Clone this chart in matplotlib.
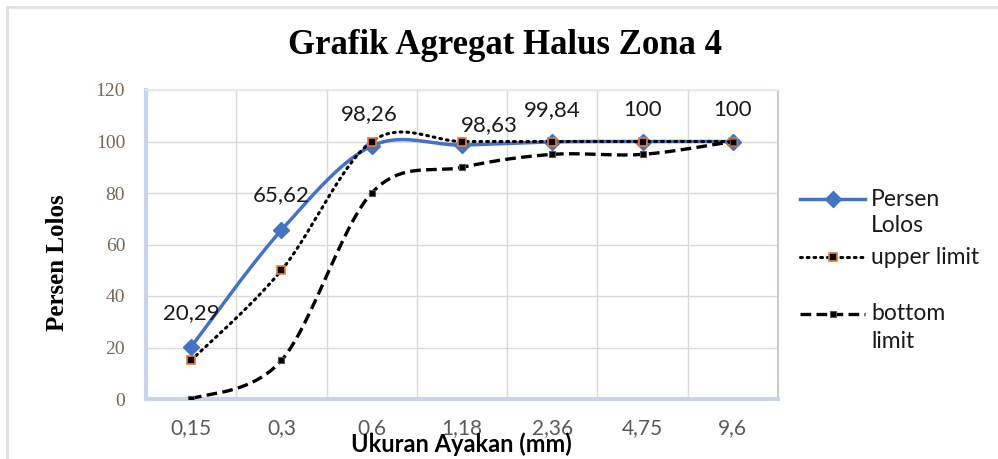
import numpy as np
import matplotlib
matplotlib.use("Agg")
import matplotlib.pyplot as plt
from matplotlib.lines import Line2D

categories = ["0,15", "0,3", "0,6", "1,18", "2,36", "4,75", "9,6"]
persen_lolos = [20.29, 65.62, 98.26, 98.63, 99.84, 100, 100]
upper_limit = [15, 50, 100, 100, 100, 100, 100]
bottom_limit = [0, 15, 80, 90, 95, 95, 100]
value_labels = ["20,29", "65,62", "98,26", "98,63", "99,84", "100", "100"]
# label offsets in points (dx, dy)
label_offsets = [(0, 24), (0, 25), (-2, 23), (20, 14), (0, 23), (0, 23), (0, 23)]

def smooth(xs, ys, n=40):
    xs = np.asarray(xs, float); ys = np.asarray(ys, float)
    px = np.concatenate([[xs[0]], xs, [xs[-1]]])
    py = np.concatenate([[ys[0]], ys, [ys[-1]]])
    outx, outy = [], []
    t = np.linspace(0, 1, n)
    for i in range(1, len(px) - 2):
        p0 = np.array([px[i], py[i]]); p3 = np.array([px[i + 1], py[i + 1]])
        c1 = p0 + (np.array([px[i + 1], py[i + 1]]) - np.array([px[i - 1], py[i - 1]])) / 6
        c2 = p3 - (np.array([px[i + 2], py[i + 2]]) - np.array([px[i], py[i]])) / 6
        b = ((1 - t) ** 3)[:, None] * p0 + (3 * (1 - t) ** 2 * t)[:, None] * c1 \
            + (3 * (1 - t) * t ** 2)[:, None] * c2 + (t ** 3)[:, None] * p3
        outx.extend(b[:, 0]); outy.extend(b[:, 1])
    return np.array(outx), np.array(outy)

W, H = 998, 459
fig = plt.figure(figsize=(W / 100, H / 100), dpi=100)
ax = fig.add_axes([146 / W, 1 - 399 / H, (778 - 146) / W, (399 - 90) / H])

x = np.arange(len(categories))
blue = "#4472C4"
txtc = "#1a1a1a"

sx, sy = smooth(x, persen_lolos)
ax.plot(sx, sy, color=blue, lw=2.5, zorder=3, solid_capstyle="round")
ax.plot(x, persen_lolos, ls="none", marker="D", ms=8.5, color=blue, zorder=4)

sx, sy = smooth(x, upper_limit)
ax.plot(sx, sy, color="black", lw=2.2, ls=(0, (0.6, 1.6)), dash_capstyle="round", zorder=5)
ax.plot(x, upper_limit, ls="none", marker="s", ms=5.5, mfc="black", mec="#ED7D31", mew=1.2, zorder=6)

sx, sy = smooth(x, bottom_limit)
ax.plot(sx, sy, color="black", lw=2.4, ls=(0, (3.2, 1.6)), zorder=7)
ax.plot(x, bottom_limit, ls="none", marker="s", ms=4.5, mfc="black", mec="#555555", mew=0.8, zorder=8)

for xi, v, lab, (dx, dy) in zip(x, persen_lolos, value_labels, label_offsets):
    ax.annotate(lab, (xi, v), xytext=(dx, dy), textcoords="offset points",
                ha="center", va="center", fontsize=16, family="Lato", color=txtc, zorder=10)

ax.set_xlim(-0.5, len(categories) - 0.5)
ax.set_ylim(0, 120)
ax.set_yticks(range(0, 121, 20))
ax.set_xticks(x)
ax.set_xticklabels(categories)
ax.set_xticks(np.arange(-0.5, len(categories), 1), minor=True)
ax.grid(True, which="minor", axis="x", color="#d9d9d9", lw=1)
ax.grid(True, which="major", axis="y", color="#d9d9d9", lw=1)
ax.tick_params(axis="both", which="both", length=0)
ax.tick_params(axis="x", pad=14, labelsize=15, labelcolor="#595959")
ax.tick_params(axis="y", pad=15, labelsize=14, labelcolor="#7a6655")
for lab in ax.get_xticklabels():
    lab.set_family("Lato")
for lab in ax.get_yticklabels():
    lab.set_family("Liberation Serif")
ax.spines["left"].set_color("#c7d4ec"); ax.spines["left"].set_linewidth(3)
ax.spines["bottom"].set_color("#c7d4ec"); ax.spines["bottom"].set_linewidth(3)
ax.spines["right"].set_color("#c8ccd6"); ax.spines["right"].set_linewidth(1.5)
ax.spines["top"].set_color("#e3e9f5"); ax.spines["top"].set_linewidth(1.5)
ax.set_axisbelow(True)

fig.text(505 / W, 1 - 46 / H, "Grafik Agregat Halus Zona 4", ha="center", va="center",
         fontsize=25, fontweight="bold", family="Liberation Serif")
fig.text(57 / W, 1 - 263 / H, "Persen Lolos", ha="center", va="center", rotation=90,
         fontsize=18, fontweight="bold", family="Liberation Serif")
fig.text(461 / W, 1 - 444 / H, "Ukuran Ayakan (mm)", ha="center", va="center",
         fontsize=17, fontweight="bold", family="Lato")

# border
fig.add_artist(Line2D([7 / W, 7 / W], [0, 1 - 7 / H], color="#e0e0e0", lw=2))
fig.add_artist(Line2D([7 / W, 1], [1 - 7 / H, 1 - 7 / H], color="#e0e0e0", lw=2))

# legend
def fx(px): return px / W
def fy(py): return 1 - py / H
hx0, hx1, tx = 800, 865, 871
lfs = 16.5
fig.add_artist(Line2D([fx(hx0), fx(hx1)], [fy(199)] * 2, color=blue, lw=2.5))
fig.add_artist(Line2D([fx((hx0 + hx1) / 2)], [fy(199)], marker="D", ms=8.5, color=blue, ls="none"))
fig.text(fx(tx), fy(199), "Persen", va="center", ha="left", fontsize=lfs, family="Lato", color=txtc)
fig.text(fx(tx), fy(225), "Lolos", va="center", ha="left", fontsize=lfs, family="Lato", color=txtc)
fig.add_artist(Line2D([fx(hx0), fx(hx1)], [fy(257)] * 2, color="black", lw=2.2,
                      ls=(0, (0.6, 1.6)), dash_capstyle="round"))
fig.add_artist(Line2D([fx((hx0 + hx1) / 2)], [fy(257)], marker="s", ms=5.5, mfc="black",
                      mec="#ED7D31", mew=1.2, ls="none"))
fig.text(fx(tx), fy(257), "upper limit", va="center", ha="left", fontsize=lfs, family="Lato", color=txtc)
fig.add_artist(Line2D([fx(hx0), fx(hx1)], [fy(314)] * 2, color="black", lw=2.4, ls=(0, (3.2, 1.6))))
fig.add_artist(Line2D([fx((hx0 + hx1) / 2)], [fy(314)], marker="s", ms=4.5, mfc="black",
                      mec="#555555", mew=0.8, ls="none"))
fig.text(fx(tx), fy(314), "bottom", va="center", ha="left", fontsize=lfs, family="Lato", color=txtc)
fig.text(fx(tx), fy(341), "limit", va="center", ha="left", fontsize=lfs, family="Lato", color=txtc)

fig.savefig("out.png", dpi=100, facecolor="white")
